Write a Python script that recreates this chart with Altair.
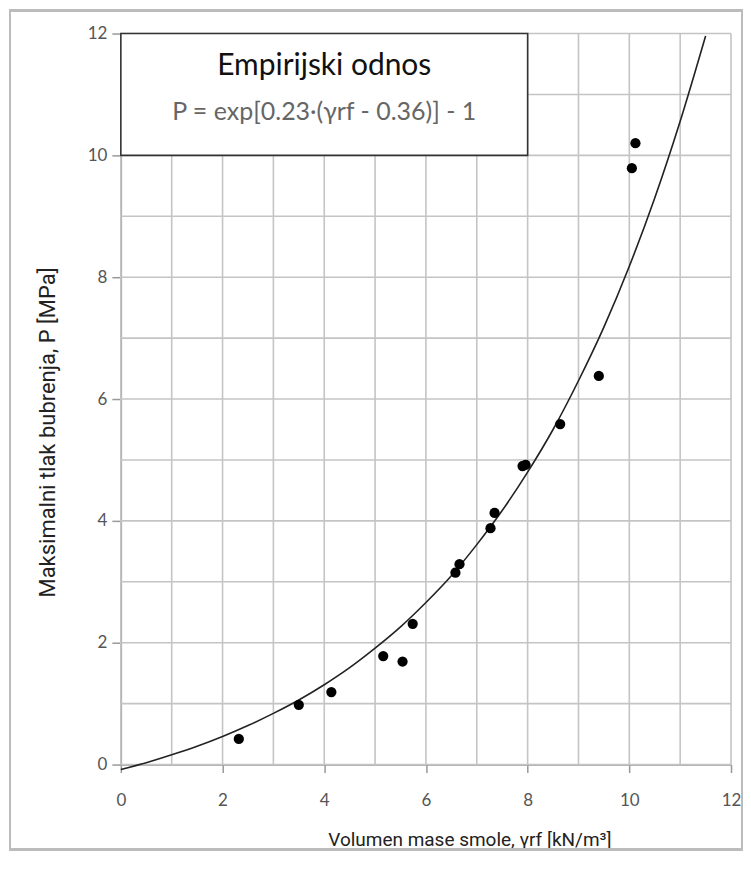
import altair as alt
import pandas as pd

# ---- data ----
gamma_rf = [2.32, 3.50, 4.14, 5.16, 5.54, 5.74, 6.58, 6.66, 7.27, 7.35,
            7.90, 7.96, 8.64, 9.40, 10.05, 10.12]
pressure = [0.42, 0.98, 1.19, 1.78, 1.69, 2.31, 3.15, 3.29, 3.88, 4.13,
            4.90, 4.92, 5.59, 6.38, 9.79, 10.20]

curve_x = [0, 0.5, 1, 1.5, 2, 2.5, 3, 3.5, 4, 4.5, 5, 5.5, 6, 6.5, 7, 7.5,
           8, 8.5, 9, 9.5, 10, 10.5, 11, 11.5]
curve_y = [-0.08, 0.03, 0.16, 0.30, 0.46, 0.64, 0.84, 1.06, 1.31, 1.59,
           1.91, 2.26, 2.66, 3.10, 3.61, 4.17, 4.80, 5.50, 6.30, 7.18,
           8.18, 9.30, 10.56, 11.96]

grid_values = list(range(0, 13))
tick_values = [0, 2, 4, 6, 8, 10, 12]

box_x = [0, 8]
box_y = [10, 12]
box_title = "Empirijski odnos"
box_formula = "P = exp[0.23·(γrf - 0.36)] - 1"

x_title = "Volumen mase smole, γrf [kN/m³]"
y_title = "Maksimalni tlak bubrenja, P [MPa]"

# ---- tables ----
pts = pd.DataFrame({"x": gamma_rf, "y": pressure})
curve = pd.DataFrame({"x": curve_x, "y": curve_y})
grid = pd.DataFrame({"g": grid_values})
box = pd.DataFrame({"x": [box_x[0]], "x2": [box_x[1]], "y": [box_y[0]], "y2": [box_y[1]]})
texts = pd.DataFrame({
    "x": [(box_x[0] + box_x[1]) / 2] * 2,
    "y": [11.46, 10.72],
    "t": [box_title, box_formula],
})

W, H = 611, 732
label_font = "Lato, Open Sans, DejaVu Sans, sans-serif"
title_font = "Liberation Sans Narrow, Roboto, sans-serif"

xs = alt.Scale(domain=[0, 12], nice=False, zero=False)
ys = alt.Scale(domain=[0, 12], nice=False, zero=False)

xaxis = alt.Axis(values=tick_values, grid=False, title=x_title, labelFlush=False,
                 tickSize=8, tickColor="#999", tickWidth=1.5,
                 domainColor="#999", domainWidth=1.5,
                 labelPadding=20, labelFontSize=17, labelColor="#555",
                 labelFont=label_font,
                 titleFont=title_font, titleFontSize=19, titleFontWeight="normal",
                 titleColor="#222", titleX=349, titleY=75,
                 titleAlign="center", titleBaseline="middle")
yaxis = alt.Axis(values=tick_values, grid=False, title=y_title, labelFlush=False,
                 tickSize=9, tickColor="#999", tickWidth=1.5,
                 domainColor="#999", domainWidth=1.5,
                 labelPadding=5, labelFontSize=17, labelColor="#555",
                 labelFont=label_font,
                 titleFont=title_font, titleFontSize=22, titleFontWeight="normal",
                 titleColor="#222", titleX=-73, titleY=399, titleAngle=-90,
                 titleAlign="center", titleBaseline="middle")

X = lambda f: alt.X(f, type="quantitative", scale=xs, axis=xaxis)
Y = lambda f: alt.Y(f, type="quantitative", scale=ys, axis=yaxis)

frame = alt.Chart(pts).mark_rect(filled=False, stroke="#bbbbbb", strokeWidth=2).encode(
    x=alt.value(-111), x2=alt.value(622), y=alt.value(-23), y2=alt.value(817))

vgrid = alt.Chart(grid).mark_rule(color="#c4c4c4", strokeWidth=1.6).encode(x=X("g"))
hgrid = alt.Chart(grid).mark_rule(color="#c4c4c4", strokeWidth=1.6).encode(y=Y("g"))

boxl = alt.Chart(box).mark_rect(fill="white", stroke="#333333", strokeWidth=1.6).encode(
    x=X("x"), x2="x2", y=Y("y"), y2="y2")

title_l = alt.Chart(texts.iloc[[0]]).mark_text(
    font="Lato, Open Sans, sans-serif", fontSize=30, color="#111", align="center",
    baseline="middle").encode(x=X("x"), y=Y("y"), text="t:N")
formula_l = alt.Chart(texts.iloc[[1]]).mark_text(
    font="Lato, Open Sans, sans-serif", fontSize=25, color="#666", align="center",
    baseline="middle").encode(x=X("x"), y=Y("y"), text="t:N")

line = alt.Chart(curve).mark_line(color="#222", strokeWidth=1.6, interpolate="monotone").encode(
    x=X("x"), y=Y("y"), order="x:Q")

dots = alt.Chart(pts).mark_circle(size=105, color="black", opacity=1).encode(
    x=X("x"), y=Y("y"))

chart = alt.layer(frame, vgrid, hgrid, line, dots, boxl, title_l, formula_l).properties(
    width=W, height=H,
    padding={"left": 113, "top": 25, "right": 12, "bottom": 86},
    autosize=alt.AutoSizeParams(type="none"),
    background="white",
).configure_view(stroke=None)

chart.save("out.html", embed_options={"renderer": "svg", "actions": False})
